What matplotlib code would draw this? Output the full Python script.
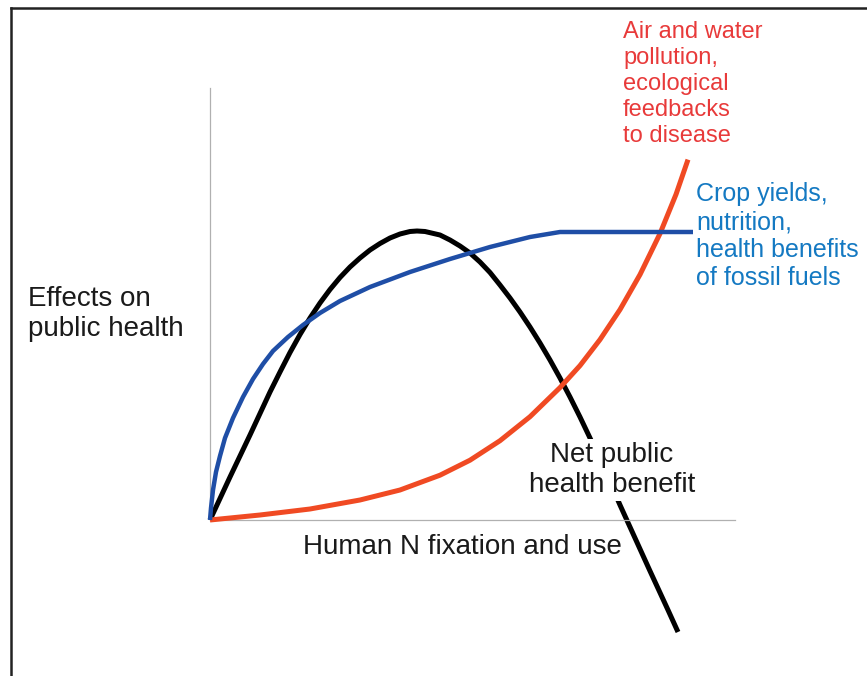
import numpy as np
import matplotlib.pyplot as plt
from matplotlib.lines import Line2D

plt.rcParams['font.family'] = ['Liberation Sans', 'DejaVu Sans']

# Curves, in arbitrary units
# (x: human N fixation and use, y: effect on public health; axes end at 525 x 432)
net_x = [0, 20, 40, 60, 70, 80, 90, 100, 110, 120, 130, 140, 150, 160, 170, 180, 190, 200, 207,
         215, 230, 240, 250, 260, 270, 280, 290, 300, 310, 320, 330, 340, 350, 360, 370, 380,
         390, 400, 410, 420, 440, 458, 468]
net_y = [0, 43, 85, 128, 148, 167.5, 185.5, 202, 217, 230.5, 242.5, 253, 262, 270, 276.5, 282,
         286, 288.5, 289, 288.5, 285, 280, 274, 267, 258, 247.5, 235, 222, 208, 193, 177, 160,
         142, 123, 103, 82, 60, 38, 15, -7, -51, -90, -112]

crop_x = [0, 1, 3, 6, 10, 15, 23, 33, 43, 53, 63, 78, 93, 110, 130, 160, 200, 240, 280, 320,
          350, 483]
crop_y = [0, 12, 30, 48, 64, 82, 102, 123, 141, 156, 169, 183, 195, 207, 219, 233, 248, 261,
          273, 283, 288, 288]

poll_x = [0, 50, 100, 150, 190, 230, 260, 290, 320, 350, 370, 390, 410, 430, 450, 466, 478]
poll_y = [0, 5, 11, 20, 30, 44.8, 59.8, 79.3, 103.3, 132.4, 154.4, 180.4, 210.4, 245.4, 286.4,
          325.6, 360.4]

fig = plt.figure(figsize=(8.67, 6.76), dpi=100)
ax = fig.add_axes([210 / 867, 1 - 520 / 676, 525 / 867, 432 / 676])
ax.set_xlim(0, 525)
ax.set_ylim(0, 432)
ax.set_xticks([])
ax.set_yticks([])
for s in ['top', 'right']:
    ax.spines[s].set_visible(False)
for s in ['left', 'bottom']:
    ax.spines[s].set_color('#b0b0b0')
    ax.spines[s].set_linewidth(0.9)

line_kw = dict(solid_capstyle='butt', solid_joinstyle='round', clip_on=False)
ax.plot(poll_x, poll_y, color='#f04a23', lw=3.6, zorder=3, **line_kw)
ax.plot(crop_x, crop_y, color='#1f4ea6', lw=3.2, zorder=3, **line_kw)
ax.plot(net_x, net_y, color='black', lw=3.6, zorder=2, **line_kw)

fs = 20
fig.text(623 / 867, 1 - 84 / 676, 'Air and water\npollution,\necological\nfeedbacks\nto disease',
         color='#e83a3a', fontsize=17, ha='left', va='center', linespacing=1.25)
fig.text(696 / 867, 1 - 236 / 676, 'Crop yields,\nnutrition,\nhealth benefits\nof fossil fuels',
         color='#1479c2', fontsize=18, ha='left', va='center', linespacing=1.21)
fig.text(28 / 867, 1 - 314 / 676, 'Effects on\npublic health',
         color='#1a1a1a', fontsize=fs, ha='left', va='center', linespacing=1.22)
fig.text(612 / 867, 1 - 470 / 676, 'Net public\nhealth benefit',
         color='#1a1a1a', fontsize=fs, ha='center', va='center', linespacing=1.24, zorder=5,
         bbox=dict(facecolor='white', edgecolor='none', pad=2))
fig.text(462 / 867, 1 - 547 / 676, 'Human N fixation and use',
         color='#1a1a1a', fontsize=fs, ha='center', va='center')

# outer frame (left and top edges only visible)
fig.add_artist(Line2D([10.5 / 867, 10.5 / 867], [0, 1 - 7.5 / 676], color='#222222', lw=1.8))
fig.add_artist(Line2D([10.5 / 867, 1], [1 - 7.5 / 676, 1 - 7.5 / 676], color='#222222', lw=1.8))

fig.savefig('out.png', dpi=100)
